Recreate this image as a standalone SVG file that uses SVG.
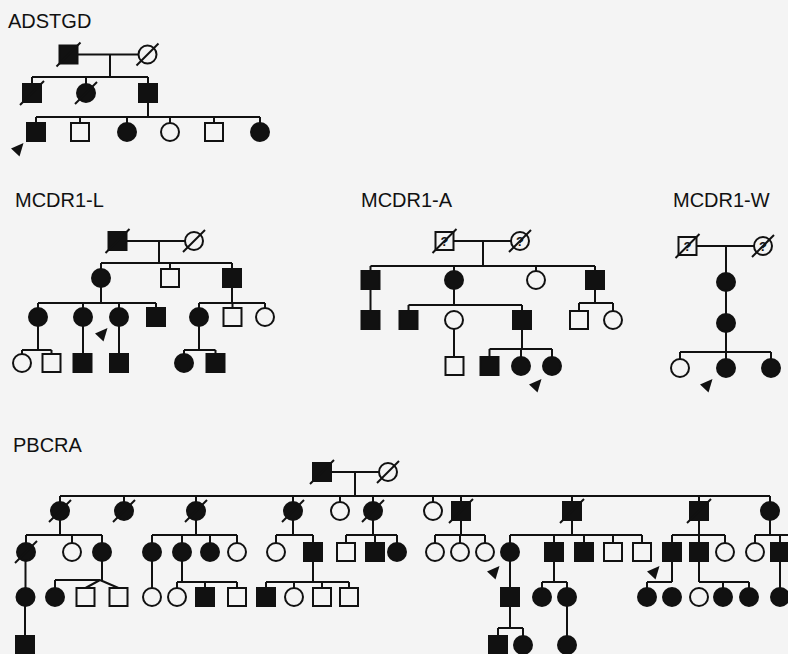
<svg xmlns="http://www.w3.org/2000/svg" width="788" height="654" viewBox="0 0 788 654">
<style>
.bg{fill:#f4f4f4}
.ln{stroke:#111;stroke-width:2;fill:none}
.f{fill:#111;stroke:#111;stroke-width:2}
.o{fill:#f4f4f4;stroke:#111;stroke-width:2}
.d{stroke:#111;stroke-width:2}
.lbl{font-family:"Liberation Sans",Arial,sans-serif;font-size:20px;fill:#111}
.q{font-family:"Liberation Sans",Arial,sans-serif;font-size:13px;font-weight:bold;fill:#111;text-anchor:middle}
.ar{fill:#111}
</style>
<defs>
<rect id="sqF" class="f" x="-9" y="-9" width="18" height="18"/>
<rect id="sqO" class="o" x="-9" y="-9" width="18" height="18"/>
<circle id="ciF" class="f" r="9"/>
<circle id="ciO" class="o" r="9"/>
<line id="dec" class="d" x1="-12" y1="12" x2="12" y2="-12"/>
<line id="decC" class="d" x1="-11" y1="11" x2="11" y2="-11"/>
<path id="arw" class="ar" d="M0,5.5 L12.5,0 L8.5,13.5 Z"/>
</defs>
<rect class="bg" x="0" y="0" width="788" height="654"/>

<g id="labels">
<text class="lbl" x="8" y="28">ADSTGD</text>
<text class="lbl" x="15" y="207">MCDR1-L</text>
<text class="lbl" x="361" y="207">MCDR1-A</text>
<text class="lbl" x="673" y="207">MCDR1-W</text>
<text class="lbl" x="13" y="452">PBCRA</text>
</g>

<g id="connectors" class="ln">
<!-- ADSTGD -->
<path d="M78,54.5H138M110,54.5V77M32,77H148M32,77V84M86,77V84M148,77V84M148,102V117M36,117H260M36,117V123M80,117V123M127,117V123M170,117V123M214,117V123M260,117V123"/>
<!-- MCDR1-L -->
<path d="M127,241H185M159,241V263M101,263H232M101,263V269M170,263V269M232,263V269M101,287V303M38,303H156M38,303V308M83,303V308M119,303V308M156,303V308M232,287V303M199,303H265M199,303V308M232.5,303V308M265,303V308M38,326V350M22,350H51.5M22,350V354M51.5,350V354M83,326V354M119,326V354M199,326V350M184,350H215.5M184,350V354M215.5,350V354"/>
<!-- MCDR1-A -->
<path d="M454,241H511M483,241V266M370.5,266H595M370.5,266V271M454,266V271M536,266V271M595,266V271M370.5,289V311M454,289V305M408.5,305H522M408.5,305V311M522,305V311M595,289V303M579,303H613M579,303V311M613,303V311M454,329V357M522,329V349M489.5,349H552M489.5,349V357M521,349V357M552,349V357"/>
<!-- MCDR1-W -->
<path d="M697,246H754M726,246V273M726,291V314M726,332V359M680,352H771M680,352V359M771,352V359"/>
<!-- PBCRA -->
<path d="M332,472H379M355,472V496M60,496H770M60,496V502M124,496V502M196,496V502M293,496V502M340,496V502M373,496V502M433,496V502M461,496V502M572,496V502M699,496V502M770,496V502"/>
<path d="M60,520V535M26,535H102M26,535V543M72,535V543M102,535V543M196,520V535M152,535H237M152,535V543M182,535V543M210,535V543M237,535V543M293,520V535M276,535H313M276,535V543M313,535V543M373,520V535M346,535H397M346,535V543M375,535V543M397,535V543M461,520V535M435,535H485M435,535V543M460,535V543M485,535V543M572,520V535M510,535H642M510,535V543M554,535V543M584,535V543M613,535V543M642,535V543M699,520V535M672,535H725M672,535V543M699,535V543M725,535V543M770,520V535M755,535H790M755,535V543M780,535V543"/>
<path d="M25.5,561V588M102,561V580M55,580H100M55,580V588M100,580L85.5,588M100,580L118.5,588M152,561V588M182,561V582M177,582H237M177,582V588M205,582V588M237,582V588M313,561V582M266,582H349M266,582V588M294,582V588M322,582V588M349,582V588M510,561V588M554,561V582M542,582H567M542,582V588M567,582V588M672,561V582M647,582H672M647,582V588M699,561V582M699,582H749M723,582V588M749,582V588M780,561V588"/>
<path d="M25,606V636M510,606V628M498,628H523M498,628V636M523,628V636M567,606V636"/>
</g>

<g id="ADSTGD">
<g id="a1"><use href="#sqF" x="68.5" y="54.5"/><use href="#dec" x="68.5" y="54.5"/></g>
<g id="a2"><use href="#ciO" x="147.5" y="54.5"/><use href="#decC" x="147.5" y="54.5"/></g>
<g id="a3"><use href="#sqF" x="32" y="93"/><use href="#dec" x="32" y="93"/></g>
<g id="a4"><use href="#ciF" x="86" y="93"/><use href="#decC" x="86" y="93"/></g>
<g id="a5"><use href="#sqF" x="148" y="93"/></g>
<g id="a6"><use href="#sqF" x="36" y="132"/></g>
<g id="a7"><use href="#sqO" x="80" y="132"/></g>
<g id="a8"><use href="#ciF" x="127" y="132"/></g>
<g id="a9"><use href="#ciO" x="170" y="132"/></g>
<g id="a10"><use href="#sqO" x="214" y="132"/></g>
<g id="a11"><use href="#ciF" x="260" y="132"/></g>
<g id="a-arrow"><use href="#arw" x="11" y="143"/></g>
</g>

<g id="MCDR1-L">
<g id="l1"><use href="#sqF" x="117.5" y="241"/><use href="#dec" x="117.5" y="241"/></g>
<g id="l2"><use href="#ciO" x="194" y="241"/><use href="#decC" x="194" y="241"/></g>
<g id="l3"><use href="#ciF" x="101" y="278"/></g>
<g id="l4"><use href="#sqO" x="170" y="278"/></g>
<g id="l5"><use href="#sqF" x="232" y="278"/></g>
<g id="l6"><use href="#ciF" x="38" y="317"/></g>
<g id="l7"><use href="#ciF" x="83" y="317"/></g>
<g id="l8"><use href="#ciF" x="119" y="317"/></g>
<g id="l9"><use href="#sqF" x="156" y="317"/></g>
<g id="l10"><use href="#ciF" x="199" y="317"/></g>
<g id="l11"><use href="#sqO" x="232.5" y="317"/></g>
<g id="l12"><use href="#ciO" x="265" y="317"/></g>
<g id="l13"><use href="#ciO" x="22" y="363"/></g>
<g id="l14"><use href="#sqO" x="51.5" y="363"/></g>
<g id="l15"><use href="#sqF" x="82.5" y="363"/></g>
<g id="l16"><use href="#sqF" x="119" y="363"/></g>
<g id="l17"><use href="#ciF" x="184" y="363"/></g>
<g id="l18"><use href="#sqF" x="215.5" y="363"/></g>
<g id="l-arrow"><use href="#arw" x="95" y="328"/></g>
</g>

<g id="MCDR1-A">
<g id="m1"><use href="#sqO" x="444.5" y="241"/><text class="q" x="444.5" y="246">?</text><use href="#dec" x="444.5" y="241"/></g>
<g id="m2"><use href="#ciO" x="520" y="241"/><text class="q" x="520" y="246">?</text><use href="#decC" x="520" y="241"/></g>
<g id="m3"><use href="#sqF" x="370.5" y="280"/></g>
<g id="m4"><use href="#ciF" x="454" y="280"/></g>
<g id="m5"><use href="#ciO" x="536" y="280"/></g>
<g id="m6"><use href="#sqF" x="595" y="280"/></g>
<g id="m7"><use href="#sqF" x="370.5" y="320"/></g>
<g id="m8"><use href="#sqF" x="408.5" y="320"/></g>
<g id="m9"><use href="#ciO" x="454" y="320"/></g>
<g id="m10"><use href="#sqF" x="522" y="320"/></g>
<g id="m11"><use href="#sqO" x="579" y="320"/></g>
<g id="m12"><use href="#ciO" x="613" y="320"/></g>
<g id="m13"><use href="#sqO" x="454.5" y="366"/></g>
<g id="m14"><use href="#sqF" x="489.5" y="366"/></g>
<g id="m15"><use href="#ciF" x="521" y="366"/></g>
<g id="m16"><use href="#ciF" x="552" y="366"/></g>
<g id="m-arrow"><use href="#arw" x="529" y="379"/></g>
</g>

<g id="MCDR1-W">
<g id="w1"><use href="#sqO" x="687.5" y="246"/><text class="q" x="687.5" y="251">?</text><use href="#dec" x="687.5" y="246"/></g>
<g id="w2"><use href="#ciO" x="763" y="246"/><text class="q" x="763" y="251">?</text><use href="#decC" x="763" y="246"/></g>
<g id="w3"><use href="#ciF" x="726" y="282"/></g>
<g id="w4"><use href="#ciF" x="726" y="323"/></g>
<g id="w5"><use href="#ciO" x="680" y="368"/></g>
<g id="w6"><use href="#ciF" x="726" y="368"/></g>
<g id="w7"><use href="#ciF" x="771" y="368"/></g>
<g id="w-arrow"><use href="#arw" x="700" y="379"/></g>
</g>

<g id="PBCRA">
<g id="p1"><use href="#sqF" x="322" y="472"/><use href="#dec" x="322" y="472"/></g>
<g id="p2"><use href="#ciO" x="388" y="472"/><use href="#decC" x="388" y="472"/></g>
<g id="p3"><use href="#ciF" x="60" y="511"/><use href="#decC" x="60" y="511"/></g>
<g id="p4"><use href="#ciF" x="124" y="511"/><use href="#decC" x="124" y="511"/></g>
<g id="p5"><use href="#ciF" x="196" y="511"/><use href="#decC" x="196" y="511"/></g>
<g id="p6"><use href="#ciF" x="293" y="511"/><use href="#decC" x="293" y="511"/></g>
<g id="p7"><use href="#ciO" x="340" y="511"/></g>
<g id="p8"><use href="#ciF" x="373" y="511"/><use href="#decC" x="373" y="511"/></g>
<g id="p9"><use href="#ciO" x="433" y="511"/></g>
<g id="p10"><use href="#sqF" x="461" y="511"/><use href="#dec" x="461" y="511"/></g>
<g id="p11"><use href="#sqF" x="572" y="511"/><use href="#dec" x="572" y="511"/></g>
<g id="p12"><use href="#sqF" x="699" y="511"/><use href="#dec" x="699" y="511"/></g>
<g id="p13"><use href="#ciF" x="770" y="511"/></g>
<g id="p14"><use href="#ciF" x="26" y="552"/><use href="#decC" x="26" y="552"/></g>
<g id="p15"><use href="#ciO" x="72" y="552"/></g>
<g id="p16"><use href="#ciF" x="102" y="552"/></g>
<g id="p17"><use href="#ciF" x="152" y="552"/></g>
<g id="p18"><use href="#ciF" x="182" y="552"/></g>
<g id="p19"><use href="#ciF" x="210" y="552"/></g>
<g id="p20"><use href="#ciO" x="237" y="552"/></g>
<g id="p21"><use href="#ciO" x="276" y="552"/></g>
<g id="p22"><use href="#sqF" x="313" y="552"/></g>
<g id="p23"><use href="#sqO" x="346" y="552"/></g>
<g id="p24"><use href="#sqF" x="375" y="552"/></g>
<g id="p25"><use href="#ciF" x="397" y="552"/></g>
<g id="p26"><use href="#ciO" x="435" y="552"/></g>
<g id="p27"><use href="#ciO" x="460" y="552"/></g>
<g id="p28"><use href="#ciO" x="485" y="552"/></g>
<g id="p29"><use href="#ciF" x="510" y="552"/></g>
<g id="p30"><use href="#sqF" x="554" y="552"/></g>
<g id="p31"><use href="#sqF" x="584" y="552"/></g>
<g id="p32"><use href="#sqO" x="613" y="552"/></g>
<g id="p33"><use href="#sqO" x="642" y="552"/></g>
<g id="p34"><use href="#sqF" x="672" y="552"/></g>
<g id="p35"><use href="#sqF" x="699" y="552"/></g>
<g id="p36"><use href="#ciO" x="725" y="552"/></g>
<g id="p37"><use href="#ciO" x="755" y="552"/></g>
<g id="p38"><use href="#sqF" x="780" y="552"/></g>
<g id="p39"><use href="#ciF" x="25.5" y="597"/></g>
<g id="p40"><use href="#ciF" x="55" y="597"/></g>
<g id="p41"><use href="#sqO" x="85.5" y="597"/></g>
<g id="p42"><use href="#sqO" x="118.5" y="597"/></g>
<g id="p43"><use href="#ciO" x="152" y="597"/></g>
<g id="p44"><use href="#ciO" x="177" y="597"/></g>
<g id="p45"><use href="#sqF" x="205" y="597"/></g>
<g id="p46"><use href="#sqO" x="237" y="597"/></g>
<g id="p47"><use href="#sqF" x="266" y="597"/></g>
<g id="p48"><use href="#ciO" x="294" y="597"/></g>
<g id="p49"><use href="#sqO" x="322" y="597"/></g>
<g id="p50"><use href="#sqO" x="349" y="597"/></g>
<g id="p51"><use href="#sqF" x="510" y="597"/></g>
<g id="p52"><use href="#ciF" x="542" y="597"/></g>
<g id="p53"><use href="#ciF" x="567" y="597"/></g>
<g id="p54"><use href="#ciF" x="647" y="597"/></g>
<g id="p55"><use href="#ciF" x="672" y="597"/></g>
<g id="p56"><use href="#ciO" x="699" y="597"/></g>
<g id="p57"><use href="#ciF" x="723" y="597"/></g>
<g id="p58"><use href="#ciF" x="749" y="597"/></g>
<g id="p59"><use href="#ciF" x="780" y="597"/></g>
<g id="p60"><use href="#sqF" x="25" y="645"/></g>
<g id="p61"><use href="#sqF" x="498" y="645"/></g>
<g id="p62"><use href="#ciF" x="523" y="645"/></g>
<g id="p63"><use href="#ciF" x="567" y="645"/></g>
<g id="p-arrow1"><use href="#arw" x="487" y="566"/></g>
<g id="p-arrow2"><use href="#arw" x="647" y="566"/></g>
</g>
</svg>
